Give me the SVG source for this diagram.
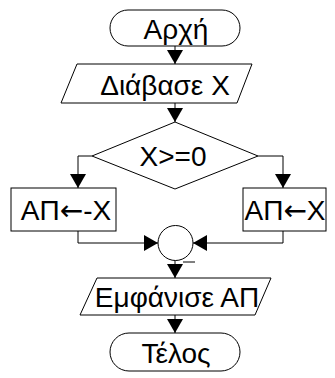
<svg xmlns="http://www.w3.org/2000/svg" width="335" height="378" viewBox="0 0 335 378">
  <style>
    .shape { fill: #ffffff; stroke: #000000; stroke-width: 1; }
    .line { fill: none; stroke: #000000; stroke-width: 1; }
    .label { font-family: "Liberation Sans", Arial, sans-serif; font-size: 28px; fill: #000000; text-anchor: middle; dominant-baseline: central; }
    .arr { font-family: "DejaVu Sans", sans-serif; }
  </style>
  <defs>
    <marker id="arrow" viewBox="0 0 14 16" refX="14" refY="8" markerWidth="14" markerHeight="16" markerUnits="userSpaceOnUse" orient="auto">
      <path d="M0,0 L14,8 L0,16 Z" fill="#000000"/>
    </marker>
  </defs>

  <rect width="335" height="378" fill="#ffffff"/>

  <g id="connectors">
    <line class="line" x1="175" y1="46" x2="175" y2="64" marker-end="url(#arrow)"/>
    <line class="line" x1="175" y1="103" x2="175" y2="122" marker-end="url(#arrow)"/>
    <polyline class="line" points="92,156 78,156 78,188" marker-end="url(#arrow)"/>
    <polyline class="line" points="258,156 283,156 283,188" marker-end="url(#arrow)"/>
    <polyline class="line" points="78,231 78,243 158,243" marker-end="url(#arrow)"/>
    <polyline class="line" points="283,231 283,243 193,243" marker-end="url(#arrow)"/>
    <line class="line" x1="175" y1="259" x2="175" y2="278" marker-end="url(#arrow)"/>
    <line class="line" x1="175" y1="315" x2="175" y2="333" marker-end="url(#arrow)"/>
    <line class="line" x1="183" y1="262" x2="195" y2="262"/>
  </g>

  <g id="start">
    <rect class="shape" x="110" y="10" width="130" height="36" rx="18" ry="18"/>
    <text class="label" x="176" y="29">Αρχή</text>
  </g>

  <g id="read-x">
    <polygon class="shape" points="77,64 252,64 237,103 61,103"/>
    <text class="label" x="165" y="85">Διάβασε X</text>
  </g>

  <g id="decision">
    <polygon class="shape" points="175,122 258,156 175,189 92,156"/>
    <text class="label" x="173" y="156">X&gt;=0</text>
  </g>

  <g id="assign-neg">
    <rect class="shape" x="11" y="188" width="105" height="43"/>
    <text class="label" x="66" y="210">ΑΠ<tspan class="arr">←</tspan>-X</text>
  </g>

  <g id="assign-pos">
    <rect class="shape" x="243" y="188" width="83" height="43"/>
    <text class="label" x="285" y="210">ΑΠ<tspan class="arr">←</tspan>X</text>
  </g>

  <g id="join">
    <circle class="shape" cx="175.5" cy="243" r="17.5"/>
  </g>

  <g id="print">
    <polygon class="shape" points="97,278 271,278 255,315 80,315"/>
    <text class="label" x="177" y="297">Εμφάνισε ΑΠ</text>
  </g>

  <g id="end">
    <rect class="shape" x="110" y="333" width="130" height="38" rx="19" ry="19"/>
    <text class="label" x="176" y="353">Τέλος</text>
  </g>
</svg>
